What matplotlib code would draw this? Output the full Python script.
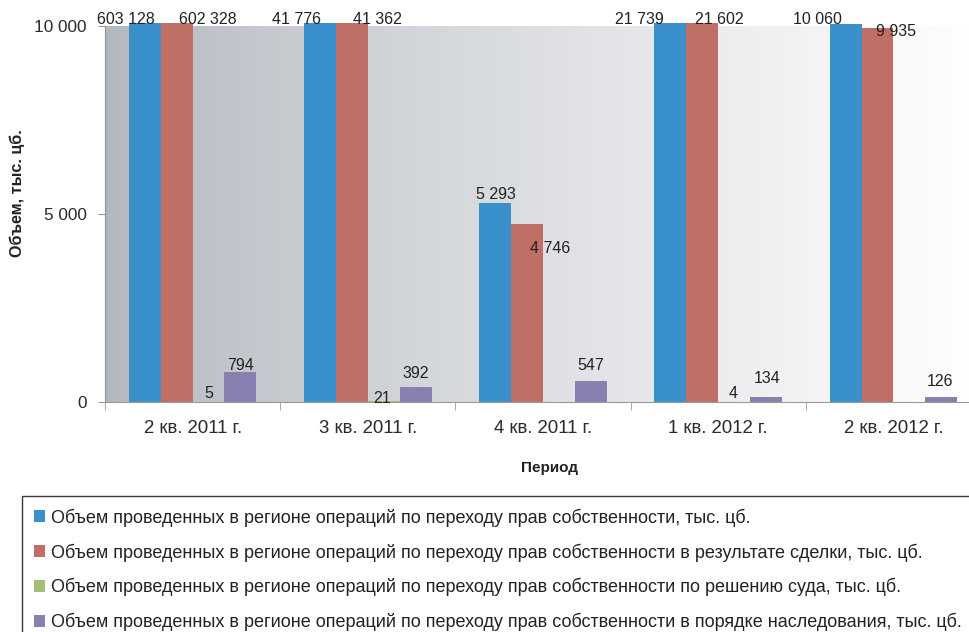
import numpy as np
import matplotlib
matplotlib.use("Agg")
import matplotlib.pyplot as plt
from matplotlib.patches import Rectangle

plt.rcParams['font.family'] = ['Liberation Sans', 'DejaVu Sans']

categories = ['2 кв. 2011 г.', '3 кв. 2011 г.', '4 кв. 2011 г.', '1 кв. 2012 г.', '2 кв. 2012 г.']
total = [603128, 41776, 5293, 21739, 10060]
deal = [602328, 41362, 4746, 21602, 9935]
court = [5, 21, np.nan, 4, np.nan]
inherit = [794, 392, 547, 134, 126]

series_names = [
    'Объем проведенных в регионе операций по переходу прав собственности, тыс. цб.',
    'Объем проведенных в регионе операций по переходу прав собственности в результате сделки, тыс. цб.',
    'Объем проведенных в регионе операций по переходу прав собственности по решению суда, тыс. цб.',
    'Объем проведенных в регионе операций по переходу прав собственности в порядке наследования, тыс. цб.',
]
colors = ['#3a90cb', '#c06f67', '#a1bf78', '#8a7fb1']

yticks = [0, 5000, 10000]
ytick_labels = ['0', '5 000', '10 000']
y_max = 10000

# label offsets in pixels (dx, dy) relative to bar top centre
label_offsets = [
    [(-19, 3), (-24, 3), (1, 8), (-31, 3), (-28, 4)],
    [(31, 3), (26, 3), (23, -25), (17, 3), (19, -3)],
    [(0, 8), (-2, 3), (0, 8), (-1, 8), (0, 8)],
    [(0, 7), (0, 14), (0, 16), (1, 18), (-1, 16)],
]

W, H = 970, 632
fig = plt.figure(figsize=(W / 100, H / 100), dpi=100)
ax_left, ax_right, ax_bottom, ax_top = 105, 981, 402, 23
ax = fig.add_axes([ax_left / W, 1 - ax_bottom / H, (ax_right - ax_left) / W, (ax_bottom - ax_top) / H])

ncat = len(categories)
ax.set_xlim(-0.5, ncat - 0.5)
top_lim = y_max * (ax_bottom - ax_top) / (ax_bottom - 26)
ax.set_ylim(0, top_lim)

# background gradient
t = np.linspace(0, 1, 400) ** 0.85
c0 = np.array([179, 184, 191]) / 255.0
c1 = np.array([255, 255, 255]) / 255.0
grad = c0[None, :] * (1 - t[:, None]) + c1[None, :] * t[:, None]
ax.imshow(grad[None, :, :], extent=[-0.5, ncat - 0.5, 0, y_max], aspect='auto', zorder=0, interpolation='bilinear')

w = 1 / 5.5
x = np.arange(ncat)
all_series = [total, deal, court, inherit]
px_per_pt = 100 / 72
for i, (vals, col) in enumerate(zip(all_series, colors)):
    vals = np.array(vals, dtype=float)
    shown = np.minimum(vals, top_lim)
    xs = x + (i - 1.5) * w
    ax.bar(xs, shown, width=w, color=col, zorder=2, label=series_names[i], linewidth=0)
    for j, (xx, v, s) in enumerate(zip(xs, vals, shown)):
        if np.isnan(v):
            continue
        dx, dy = label_offsets[i][j]
        ax.annotate(f"{int(v):,}".replace(',', ' '), (xx, s),
                    xytext=(dx / px_per_pt, dy / px_per_pt), textcoords='offset points',
                    ha='center', va='center',
                    fontsize=11.5, color='#222222', zorder=5, annotation_clip=False)

for sp in ['top', 'right']:
    ax.spines[sp].set_visible(False)
ax.spines['left'].set_bounds(0, y_max)
ax.spines['left'].set_color('#8e9299')
ax.spines['bottom'].set_color('#9a9a9a')
ax.spines['left'].set_zorder(3)

ax.set_yticks(yticks)
ax.set_yticklabels(ytick_labels, fontsize=12.4, color='#2a2a2a')
ax.tick_params(axis='y', length=5, color='#9a9a9a', pad=8)

ax.set_xticks(x)
ax.set_xticklabels(categories, fontsize=13.4, color='#2a2a2a')
ax.set_xticks(np.arange(-0.5, ncat, 1.0), minor=True)
ax.tick_params(axis='x', which='major', length=0, pad=13)
ax.tick_params(axis='x', which='minor', length=6, color='#9a9a9a')

fig.text(550 / W, 1 - 468 / H, 'Период', fontsize=11, fontweight='bold', ha='center', va='center', color='#222222')
fig.text(17 / W, 1 - 193 / H, 'Объем, тыс. цб.', fontsize=11.6, fontweight='bold', ha='center', va='center',
         rotation=90, color='#222222')

handles, labels = ax.get_legend_handles_labels()
leg = fig.legend(handles, labels, loc='upper left', bbox_to_anchor=(22 / W, 1 - 496 / H),
                 bbox_transform=fig.transFigure, borderaxespad=0, fontsize=13,
                 frameon=False, handlelength=0.62,
                 handleheight=0.62, handletextpad=0.3, labelspacing=0.92, borderpad=0.68)
for txt in leg.get_texts():
    txt.set_color('#222222')

# legend frame running past the right and bottom edges, as in the source
fig.patches.append(Rectangle((22 / W, -0.2), 1.0, 1 - 496 / H + 0.2, transform=fig.transFigure,
                             fill=False, edgecolor='#3a3a3a', linewidth=1.0))

fig.savefig('out.png', dpi=100)
